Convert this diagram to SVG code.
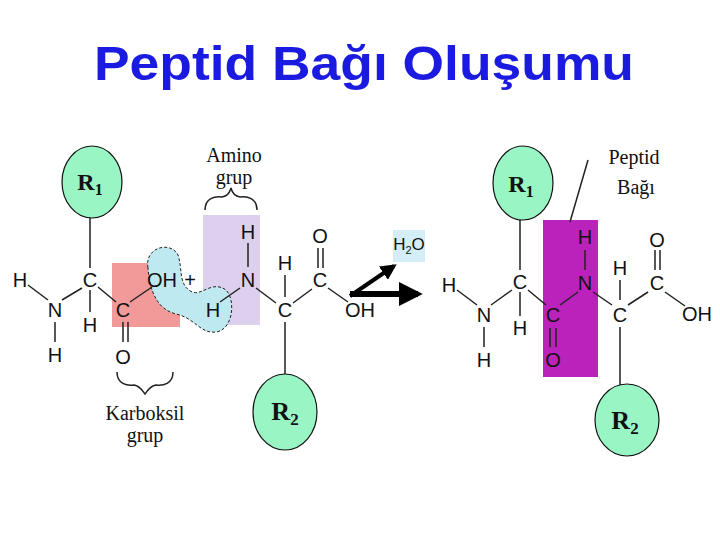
<svg xmlns="http://www.w3.org/2000/svg" width="720" height="540" viewBox="0 0 720 540">
<defs>
<style>
.a{font-family:"Liberation Sans",Arial,sans-serif;font-size:20px;text-anchor:middle;fill:#111}
.s{font-family:"Liberation Serif","Times New Roman",serif;text-anchor:middle;fill:#111}
.r{fill:#99f5c4;stroke:#111;stroke-width:1.2}
.b{stroke:#222;stroke-width:1.5;fill:none}
</style>
<marker id="ah" viewBox="0 0 10 10" refX="8" refY="5" markerWidth="4" markerHeight="4" orient="auto"><path d="M0,0L10,5L0,10z" fill="#000"/></marker>
</defs>
<rect width="720" height="540" fill="#fff"/>
<text x="364" y="80" font-family="Liberation Sans,Arial,sans-serif" font-size="48" font-weight="bold" fill="#1a1ae0" text-anchor="middle" textLength="540" lengthAdjust="spacingAndGlyphs">Peptid Bağı Oluşumu</text>

<g id="highlights">
<rect x="112" y="263" width="68" height="64" fill="#f08888" opacity="0.85"/>
<rect x="203" y="215" width="57" height="110" fill="#ddd0ee"/>
<path d="M148,268 C144,248 170,240 178,255 C183,270 178,285 192,292 C202,296 212,280 226,290 C236,300 233,330 216,332 C200,334 195,318 176,314 C160,310 150,296 148,268Z" fill="#bfe9f0" stroke="#222" stroke-dasharray="3,2"/>
<rect x="393" y="230" width="32" height="32" fill="#d3eef7"/>
<rect x="543" y="220" width="55" height="157" fill="#bb22bb"/>
</g>

<g id="connectors" class="b">
<path d="M90,218V268M28,285L48,300M62,300L82,288M55,322V342M90,290V312M98,287L116,302M123,322V342M128,322V342M130,302L152,287M220,302L240,288M248,243V267M256,288L276,303M285,275V297M293,303L312,289M318,248V268M323,248V268M328,288L348,302M285,322V374"/>
<path d="M520,220V270M457,290L477,305M491,305L512,290M484,327V347M520,292V316M528,290L546,305M550,328V347M556,328V347M560,305L578,292M585,250V270M593,292L612,305M620,280V300M628,305L648,292M655,250V270M660,250V270M665,292L685,306M620,327V386M588,160L570,222"/>
<line x1="350" y1="294" x2="418" y2="294" stroke="#000" stroke-width="6" marker-end="url(#ah)"/>
<line x1="350" y1="296" x2="394" y2="266" stroke="#000" stroke-width="4" marker-end="url(#ah)"/>
</g>

<g id="braces" class="b">
<path d="M205,210C205,198 215,196 222,197C228,196 230,192 231,188C232,192 234,196 240,197C247,196 257,198 257,210"/>
<path d="M117,372C117,384 127,386 134,385C140,386 142,390 145,394C148,390 150,386 156,385C163,386 173,384 173,372"/>
</g>

<g id="left-atoms" class="a">
<text x="90" y="287">C</text><text x="20" y="287">H</text><text x="55" y="317">N</text><text x="55" y="362">H</text><text x="90" y="332">H</text>
<text x="123" y="317">C</text><text x="123" y="364">O</text><text x="162" y="287">OH</text><text x="190" y="287">+</text>
<text x="213" y="317">H</text><text x="248" y="287">N</text><text x="248" y="239">H</text><text x="285" y="317">C</text><text x="285" y="270">H</text>
<text x="320" y="287">C</text><text x="320" y="243">O</text><text x="360" y="317">OH</text>
<text x="409" y="250" font-size="17">H<tspan font-size="11" dy="4">2</tspan><tspan dy="-4">O</tspan></text>
</g>

<g id="right-atoms" class="a">
<text x="449" y="292">H</text><text x="484" y="322">N</text><text x="484" y="367">H</text><text x="520" y="289">C</text><text x="520" y="335">H</text>
<text x="553" y="322">C</text><text x="553" y="367">O</text><text x="585" y="290">N</text><text x="585" y="244">H</text>
<text x="620" y="322">C</text><text x="620" y="275">H</text><text x="657" y="290">C</text><text x="657" y="247">O</text><text x="697" y="321">OH</text>
</g>

<g id="R1-left"><ellipse class="r" cx="92" cy="182" rx="30" ry="36"/><text class="s" x="90" y="190" font-size="24" font-weight="bold">R<tspan font-size="16" dy="5">1</tspan></text></g>
<g id="R2-left"><ellipse class="r" cx="285" cy="412" rx="32" ry="38"/><text class="s" x="285" y="420" font-size="26" font-weight="bold">R<tspan font-size="17" dy="5">2</tspan></text></g>
<g id="R1-right"><ellipse class="r" cx="523" cy="183" rx="30" ry="37"/><text class="s" x="521" y="192" font-size="24" font-weight="bold">R<tspan font-size="16" dy="5">1</tspan></text></g>
<g id="R2-right"><ellipse class="r" cx="627" cy="420" rx="32" ry="36"/><text class="s" x="625" y="429" font-size="26" font-weight="bold">R<tspan font-size="17" dy="5">2</tspan></text></g>

<g id="labels">
<text class="s" x="234" y="162" font-size="20">Amino</text><text class="s" x="234" y="184" font-size="20">grup</text>
<text class="s" x="145" y="420" font-size="20">Karboksil</text><text class="s" x="145" y="442" font-size="20">grup</text>
<text class="s" x="634" y="164" font-size="20">Peptid</text><text class="s" x="636" y="194" font-size="20">Bağı</text>
</g>
</svg>
